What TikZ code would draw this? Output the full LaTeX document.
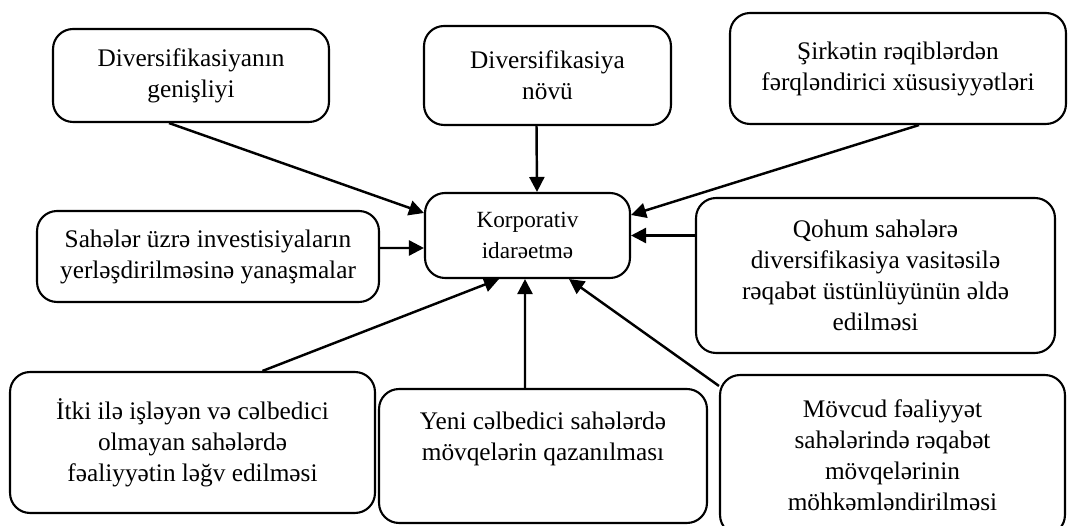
\documentclass[tikz,border=0pt]{standalone}
\usepackage{fontspec}
\setmainfont{Liberation Serif}
\usetikzlibrary{arrows.meta}

\begin{document}
\begin{tikzpicture}[x=0.02cm,y=-0.02cm,line width=1.4pt,
	box/.style={draw,rounded corners=0.4cm,line width=1.2pt,align=center,inner sep=0pt,font=\fontsize{14.4}{17.6}\selectfont},
	>={Triangle[length=0.3cm,width=0.3cm]}]
	\useasboundingbox (0,0) rectangle (1068,526);
	\node[box,minimum width=5.52cm,minimum height=1.86cm] (genis) at (191,75.5) {Diversifikasiyanın\\genişliyi};
	\node[box,minimum width=4.94cm,minimum height=1.98cm] (novu) at (547.5,75.5) {Diversifikasiya\\növü};
	\node[box,minimum width=6.72cm,minimum height=2.22cm] (ferq) at (898,68.5) {Şirkətin rəqiblərdən\\fərqləndirici xüsusiyyətləri};
	\node[box,minimum width=6.84cm,minimum height=1.82cm] (yanasma) at (208,256.5) {Sahələr üzrə investisiyaların\\yerləşdirilməsinə yanaşmalar};
	\node[box,minimum width=4.1cm,minimum height=1.7cm,font=\fontsize{13.2}{18}\selectfont] (korp) at (527.5,235.5) {Korporativ\\idarəetmə};
	\node[box,minimum width=7.18cm,minimum height=3.1cm] (qohum) at (875.5,275.5) {Qohum sahələrə\\diversifikasiya vasitəsilə\\rəqabət üstünlüyünün əldə\\edilməsi};
	\node[box,minimum width=7.3cm,minimum height=2.82cm] (itki) at (192.5,442.5) {İtki ilə işləyən və cəlbedici\\olmayan sahələrdə\\fəaliyyətin ləğv edilməsi};
	\node[box,minimum width=6.56cm,minimum height=2.68cm] (yeni) at (543,456) {Yeni cəlbedici sahələrdə\\mövqelərin qazanılması\\\strut};
	\node[box,minimum width=6.9cm,minimum height=3.2cm] (movcud) at (892.5,455) {Mövcud fəaliyyət\\sahələrində rəqabət\\mövqelərinin\\möhkəmləndirilməsi};

	\path[->] ([xshift=-0.44cm]genis.south) edge ([yshift=0.45cm]korp.west)
	([xshift=-0.22cm]novu.south) edge ([xshift=0.19cm]korp.north)
	([xshift=0.42cm]ferq.south) edge ([yshift=0.41cm]korp.east)
	([yshift=0.17cm]yanasma.east) edge ([yshift=-0.25cm]korp.west)
	(qohum.west |- korp.east) edge (korp.east)
	([xshift=1.4cm]itki.north) edge ([xshift=-0.57cm]korp.south)
	([xshift=-0.36cm]yeni.north) edge ([xshift=-0.05cm]korp.south)
	([yshift=-0.24cm]movcud.north west) edge ([xshift=0.83cm]korp.south);
\end{tikzpicture}
\end{document}
